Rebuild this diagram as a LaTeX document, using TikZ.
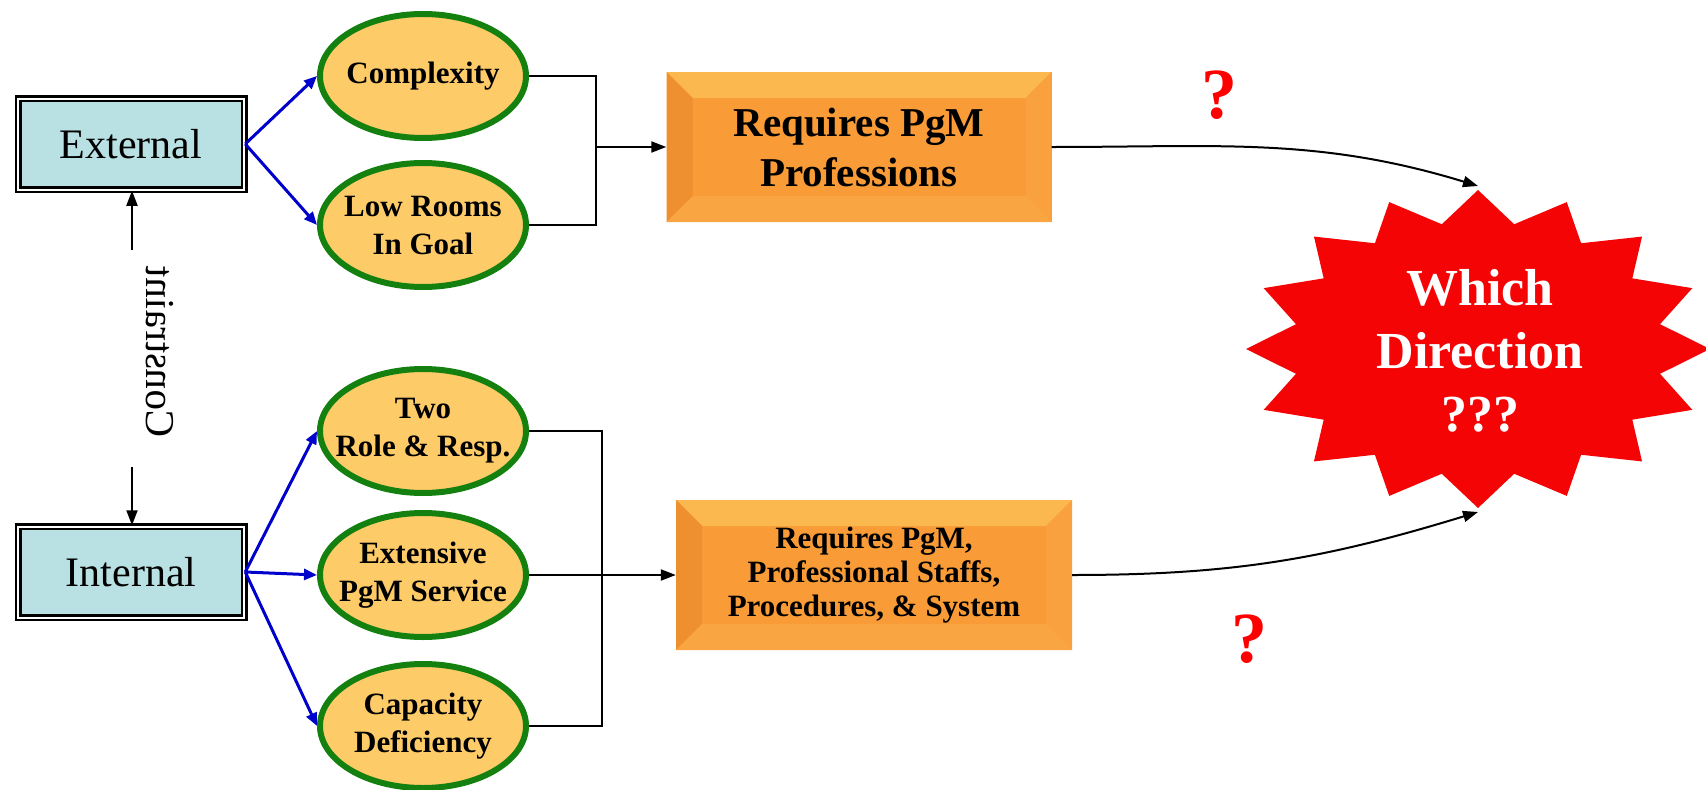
\documentclass[tikz,border=0pt]{standalone}
\usepackage{fontspec}
\setmainfont{Liberation Serif}
\usetikzlibrary{arrows.meta,shapes.geometric}

\definecolor{boxblue}{HTML}{B9E0E3}
\definecolor{ovalfill}{HTML}{FECB69}
\definecolor{ovalline}{HTML}{13800F}
\definecolor{arrblue}{HTML}{0000CC}
\definecolor{pgmface}{HTML}{F99C38}
\definecolor{pgmtop}{HTML}{FBB84F}
\definecolor{pgmleft}{HTML}{EE8F30}
\definecolor{pgmright}{HTML}{F8A13E}
\definecolor{pgmbottom}{HTML}{F9A642}
\definecolor{burst}{HTML}{F40404}

\tikzset{
  scopebox/.style={draw, line width=2.5pt, double=white, double distance=2pt,
    fill=boxblue, minimum width=226pt, minimum height=91pt,
    font=\fontsize{42}{50}\selectfont},
  factor/.style={ellipse, draw=ovalline, line width=6pt, fill=ovalfill,
    minimum width=206pt, minimum height=124pt, inner xsep=-20pt, inner ysep=0pt,
    align=center, font=\bfseries\fontsize{31}{38}\selectfont},
  needbox/.style={fill=pgmface, minimum height=150pt, inner sep=0pt, align=center,
    path picture={
      \fill[pgmtop] (path picture bounding box.north west) -- (path picture bounding box.north east)
        -- ([xshift=-26pt,yshift=-26pt]path picture bounding box.north east)
        -- ([xshift=26pt,yshift=-26pt]path picture bounding box.north west) -- cycle;
      \fill[pgmleft] (path picture bounding box.north west) -- (path picture bounding box.south west)
        -- ([xshift=26pt,yshift=26pt]path picture bounding box.south west)
        -- ([xshift=26pt,yshift=-26pt]path picture bounding box.north west) -- cycle;
      \fill[pgmright] (path picture bounding box.north east) -- (path picture bounding box.south east)
        -- ([xshift=-26pt,yshift=26pt]path picture bounding box.south east)
        -- ([xshift=-26pt,yshift=-26pt]path picture bounding box.north east) -- cycle;
      \fill[pgmbottom] (path picture bounding box.south west) -- (path picture bounding box.south east)
        -- ([xshift=-26pt,yshift=26pt]path picture bounding box.south east)
        -- ([xshift=26pt,yshift=26pt]path picture bounding box.south west) -- cycle;
    }},
  bluearr/.style={draw=arrblue, line width=3pt, -{Triangle[length=13pt,width=11pt]}},
  conn/.style={line width=2pt},
  connarr/.style={line width=2pt, -{Triangle[length=15pt,width=11pt]}},
  quest/.style={text=red, font=\bfseries\fontsize{72}{80}\selectfont, inner sep=0pt}
}

\begin{document}
\begin{tikzpicture}[x=1pt, y=-1pt]
  \useasboundingbox (0,0) rectangle (1706,790);

  % scope boxes and the constraint between them
  \node[scopebox] (ext) at (131,144) {External};
  \node[scopebox] (int) at (131,572) {Internal};
  \node[cm={0,1,1,0,(0,0)}, font=\fontsize{41}{48}\selectfont, inner sep=0pt] (cons) at (160,352) {Constraint};
  \coordinate (cu) at (132,250);
  \coordinate (cd) at (132,467);
  \draw[connarr] (cu) -- (cu |- ext.south);
  \draw[connarr] (cd) -- (cd |- int.north);

  % factors
  \node[factor] (cplx) at (423,76) {Complexity};
  \node[factor] (lowr) at (423,225) {Low Rooms\\In Goal};
  \node[factor] (two)  at (423,431) {Two\\Role \& Resp.};
  \node[factor] (extn) at (423,575) {Extensive\\PgM Service};
  \node[factor] (capa) at (423,726) {Capacity\\Deficiency};

  \draw[bluearr] (ext.east) -- (cplx.west);
  \draw[bluearr] (ext.east) -- (lowr.west);
  \draw[bluearr] (int.east) -- (two.west);
  \draw[bluearr] (int.east) -- (extn.west);
  \draw[bluearr] (int.east) -- (capa.west);

  % requirements
  \node[needbox, minimum width=385pt, font=\bfseries\fontsize{41}{50}\selectfont] (pgm1) at (859,147) {Requires PgM\\Professions};
  \node[needbox, minimum width=396pt, font=\bfseries\fontsize{31}{34}\selectfont] (pgm2) at (874,575) {Requires PgM,\\Professional Staffs,\\Procedures, \& System};

  \coordinate (jtop) at (596,147);
  \coordinate (jbot) at (602,575);
  \draw[conn] (cplx.east) -| (jtop |- lowr.east) -- (lowr.east);
  \draw[connarr] (jtop) -- (pgm1.west);
  \draw[conn] (two.east) -| (jbot |- capa.east) -- (capa.east);
  \draw[connarr] (extn.east) -- (pgm2.west);

  % the burst
  \fill[burst] (1478,190) \foreach \k in {1,...,31}{
    -- ({1478+232*ifthenelse(isodd(\k),0.8,1)*cos(90+11.25*\k)},
        {349-159*ifthenelse(isodd(\k),0.8,1)*sin(90+11.25*\k)})} -- cycle;
  \node[text=white, align=center, font=\bfseries\fontsize{52}{63}\selectfont] (dir) at (1480,351) {Which\\Direction\\???};
  \coordinate (stop) at (1478,186);
  \coordinate (sbot) at (1478,512);

  \draw[connarr] (pgm1.east) to[out=0,in=163] (stop);
  \draw[connarr] (pgm2.east) to[out=0,in=197] (sbot);

  \node[quest] (q1) at (1219,95) {?};
  \node[quest] (q2) at (1249,639) {?};
\end{tikzpicture}
\end{document}
